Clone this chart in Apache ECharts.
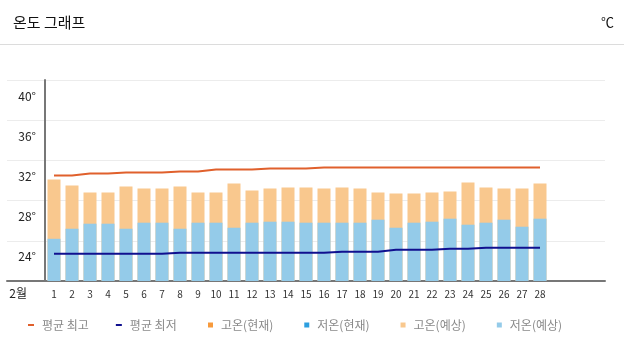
<!DOCTYPE html>
<html>
<head>
<meta charset="utf-8">
<script src="https://cdn.jsdelivr.net/npm/echarts@6/dist/echarts.min.js"></script>
<style>
  html, body { margin: 0; padding: 0; background: #fff; }
  #main { width: 624px; height: 354px; }
</style>
</head>
<body>
<div id="main"></div>
<script>
// 2월 일별 기온
var days = ['1','2','3','4','5','6','7','8','9','10','11','12','13','14','15','16','17','18','19','20','21','22','23','24','25','26','27','28'];
var highForecast = [30.1, 29.5, 28.8, 28.8, 29.4, 29.2, 29.2, 29.4, 28.8, 28.8, 29.7, 29.0, 29.2, 29.3, 29.3, 29.2, 29.3, 29.2, 28.8, 28.7, 28.7, 28.8, 28.9, 29.8, 29.3, 29.2, 29.2, 29.7];
var lowForecast = [24.2, 25.2, 25.7, 25.7, 25.2, 25.8, 25.8, 25.2, 25.8, 25.8, 25.3, 25.8, 25.9, 25.9, 25.8, 25.8, 25.8, 25.8, 26.1, 25.3, 25.8, 25.9, 26.2, 25.6, 25.8, 26.1, 25.4, 26.2];
var avgHigh = [30.5, 30.5, 30.7, 30.7, 30.8, 30.8, 30.8, 30.9, 30.9, 31.1, 31.1, 31.1, 31.2, 31.2, 31.2, 31.3, 31.3, 31.3, 31.3, 31.3, 31.3, 31.3, 31.3, 31.3, 31.3, 31.3, 31.3, 31.3];
var avgLow = [22.7, 22.7, 22.7, 22.7, 22.7, 22.7, 22.7, 22.8, 22.8, 22.8, 22.8, 22.8, 22.8, 22.8, 22.8, 22.8, 22.9, 22.9, 22.9, 23.1, 23.1, 23.1, 23.2, 23.2, 23.3, 23.3, 23.3, 23.3];
var highNow = [];
var lowNow = [];
var yTicks = {min: 20, max: 40, step: 4};

// x축은 31칸 (29~31일은 빈칸)
var xSlots = days.concat(['', '', '']);

var chart = echarts.init(document.getElementById('main'));
var font = '"Noto Sans CJK KR", "Noto Sans", sans-serif';

var option = {
  animation: false,
  textStyle: { fontFamily: font },
  title: [
    { text: '온도 그래프', left: 8, top: 10, textStyle: { fontFamily: font, fontSize: 15, fontWeight: 'normal', color: '#111' } },
    { text: '℃', right: 5, top: 11, textStyle: { fontFamily: font, fontSize: 13, fontWeight: 'normal', color: '#111' } }
  ],
  graphic: [
    { type: 'line', shape: { x1: 0, y1: 44.5, x2: 624, y2: 44.5 }, style: { stroke: '#dcdcdc', lineWidth: 1 } }
  ],
  legend: [
    {
      data: ['평균 최고', '평균 최저'],
      left: 28, top: 319, padding: 0,
      icon: 'rect', itemWidth: 6, itemHeight: 2, itemGap: 27,
      textStyle: { fontSize: 12, color: '#8a8a8a', padding: [0, 0, 0, 3] }
    },
    {
      data: ['고온(현재)', '저온(현재)', '고온(예상)', '저온(예상)'],
      left: 208, top: 319, padding: 0,
      icon: 'rect', itemWidth: 5, itemHeight: 5, itemGap: 31,
      textStyle: { fontSize: 12, color: '#8a8a8a', padding: [0, 0, 0, 3] }
    }
  ],
  grid: [
    { left: 7, right: 19, top: 80, bottom: 73 },   // 배경 눈금선용
    { left: 45, right: 21, top: 80, bottom: 73 }   // 데이터
  ],
  xAxis: [
    {
      gridIndex: 0, type: 'value', min: 0, max: 1,
      axisLine: { show: true, lineStyle: { color: '#777', width: 2 } },
      axisTick: { show: false }, axisLabel: { show: false }, splitLine: { show: false }
    },
    {
      gridIndex: 1, type: 'category', data: xSlots,
      axisLine: { show: false }, axisTick: { show: false },
      axisLabel: { interval: 0, fontSize: 10, color: '#333', margin: 8 },
      name: '2월', nameLocation: 'start', nameGap: 18,
      nameTextStyle: { fontSize: 12, color: '#222', verticalAlign: 'top', padding: [6, 0, 0, 0] }
    }
  ],
  yAxis: [
    {
      gridIndex: 0, type: 'value', min: yTicks.min, max: yTicks.max, interval: yTicks.step,
      axisLine: { show: false }, axisTick: { show: false }, axisLabel: { show: false },
      splitLine: { show: true, lineStyle: { color: '#ececec', width: 1 } }
    },
    {
      gridIndex: 1, type: 'value', min: yTicks.min, max: yTicks.max, interval: yTicks.step,
      axisLine: { show: true, lineStyle: { color: '#777', width: 2 } },
      axisTick: { show: false },
      splitLine: { show: false },
      axisLabel: {
        showMinLabel: false, fontSize: 12, color: '#222', margin: 9,
        verticalAlign: 'top', padding: [10, 0, 0, 0],
        formatter: function (v) { return v + '°'; }
      }
    }
  ],
  series: [
    { name: '고온(현재)', type: 'bar', xAxisIndex: 1, yAxisIndex: 1, data: highNow, barWidth: 13, barGap: '-100%', itemStyle: { color: '#f79a3c' } },
    { name: '저온(현재)', type: 'bar', xAxisIndex: 1, yAxisIndex: 1, data: lowNow, barWidth: 13, barGap: '-100%', itemStyle: { color: '#2d9fdf' } },
    { name: '고온(예상)', type: 'bar', xAxisIndex: 1, yAxisIndex: 1, data: highForecast, barWidth: 13, barGap: '-100%', itemStyle: { color: '#f9c88e' } },
    { name: '저온(예상)', type: 'bar', xAxisIndex: 1, yAxisIndex: 1, data: lowForecast, barWidth: 13, barGap: '-100%', itemStyle: { color: '#94cbe9' } },
    { name: '평균 최고', type: 'line', xAxisIndex: 1, yAxisIndex: 1, data: avgHigh, showSymbol: false, lineStyle: { color: '#e0602c', width: 2 }, itemStyle: { color: '#e0602c' } },
    { name: '평균 최저', type: 'line', xAxisIndex: 1, yAxisIndex: 1, data: avgLow, showSymbol: false, lineStyle: { color: '#10108f', width: 2 }, itemStyle: { color: '#10108f' } }
  ]
};

chart.setOption(option);
</script>
</body>
</html>
